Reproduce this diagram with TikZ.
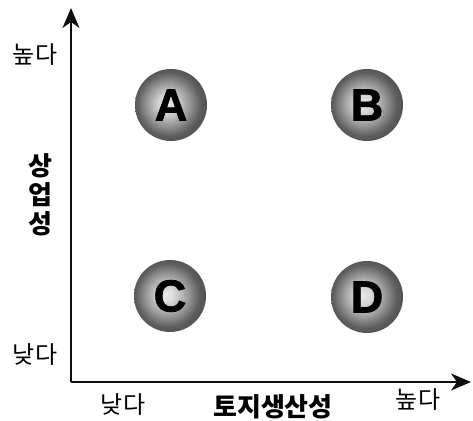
\documentclass[tikz,border=0pt]{standalone}
\usepackage{fontspec}
\usepackage{tikz}
\usetikzlibrary{positioning,arrows.meta}
\setmainfont{Liberation Sans}
\newfontfamily\krfont{Noto Sans CJK KR}
\newfontfamily\orbfont[FakeBold=1.6]{Liberation Sans Bold}
\definecolor{axisblack}{RGB}{15,15,15}
\definecolor{orblight}{RGB}{235,235,235}
\definecolor{orbmid}{RGB}{150,150,150}
\definecolor{orbdark}{RGB}{85,85,85}
\pgfdeclareradialshading{orbshade}{\pgfpoint{-3bp}{1bp}}{%
  color(0bp)=(orblight); color(6bp)=(orblight!75!orbmid);
  color(15bp)=(orbmid); color(22bp)=(orbdark!85!orbmid);
  color(25bp)=(orbdark); color(50bp)=(orbdark)}

\tikzset{
  orb/.style={circle, minimum size=72pt, inner sep=0pt, shading=orbshade,
    font=\orbfont\fontsize{45}{45}\selectfont},
  ticklabel/.style={font=\krfont\fontsize{24}{24}\selectfont, inner sep=0pt},
  axistitle/.style={font=\krfont\bfseries\fontsize{26}{29}\selectfont, inner sep=0pt, align=center}
}

\begin{document}
\begin{tikzpicture}[x=1pt,y=1pt]
    \useasboundingbox (0,0) rectangle (473,420);
    % axes
    \coordinate (origin) at (71,38);
    \coordinate (ytip) at (71,412);
    \coordinate (xtip) at (471,38);
    \draw[axisblack, line width=1.3pt, -{Stealth[length=20pt,width=17pt,inset=6pt]}] (origin) -- (ytip);
    \draw[axisblack, line width=1.3pt, -{Stealth[length=20pt,width=17pt,inset=6pt]}] (origin) -- (xtip);

    % quadrants
    \node[orb] (qa) at (171,315) {A};
    \node[orb] (qb) at (367,315) {B};
    \node[orb] (qc) at (170,124) {C};
    \node[orb] (qd) at (367,123) {D};

    % labels
    \node[ticklabel] (yhigh) at (35,365) {높다};
    \node[ticklabel] (ylow) at (35,65) {낮다};
    \node[axistitle] (ytitle) at (40,225) {상\\업\\성};
    \node[ticklabel] (xlow) at (123,15) {낮다};
    \node[axistitle] (xtitle) at (273,13) {토지생산성};
    \node[ticklabel] (xhigh) at (418,20) {높다};
\end{tikzpicture}
\end{document}
